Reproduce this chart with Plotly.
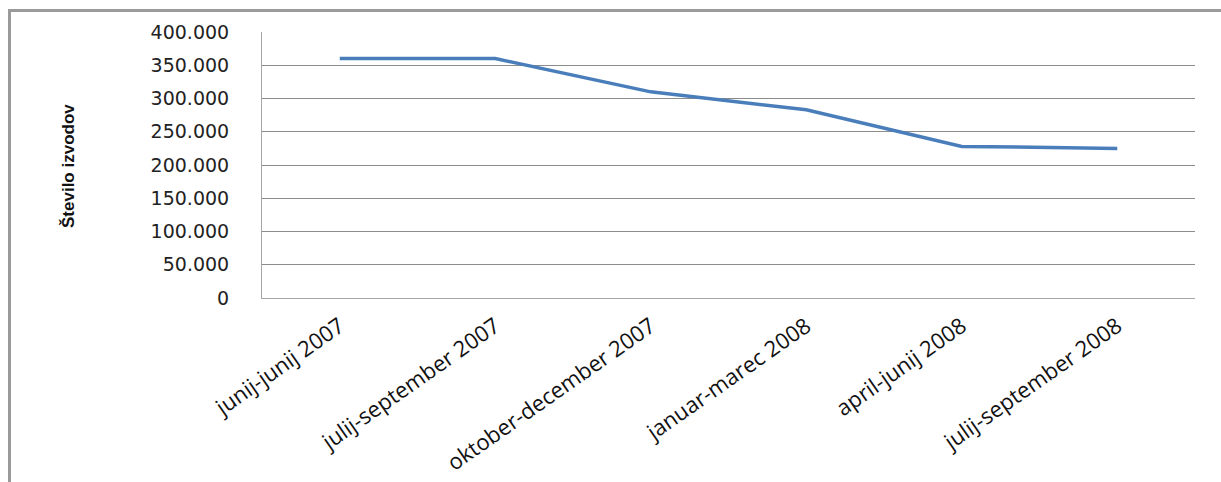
import plotly.graph_objects as go

# Quarterly periods and number of copies
periods = [
    "junij-junij 2007",
    "julij-september 2007",
    "oktober-december 2007",
    "januar-marec 2008",
    "april-junij 2008",
    "julij-september 2008",
]
copies = [360000, 360000, 310000, 283000, 228000, 225000]

y_ticks = [0, 50000, 100000, 150000, 200000, 250000, 300000, 350000, 400000]
y_tick_text = ["0", "50.000", "100.000", "150.000", "200.000",
               "250.000", "300.000", "350.000", "400.000"]

W, H = 1221, 482
L, R, T, B = 262, 26, 32, 184
pw, ph = W - L - R, H - T - B


def px(x):
    return (x - L) / pw


def py(y):
    return (H - B - y) / ph


fig = go.Figure()
fig.add_trace(go.Scatter(
    x=periods, y=copies, mode="lines",
    line=dict(color="#4a7ebb", width=3.5),
    hoverinfo="x+y", showlegend=False,
))

fig.update_layout(
    width=W, height=H,
    margin=dict(l=L, r=R, t=T, b=B, autoexpand=False),
    paper_bgcolor="white", plot_bgcolor="white",
    xaxis=dict(
        type="category", range=[-0.5, 5.5],
        showgrid=False, showline=True, linecolor="#a6a6a6", linewidth=1,
        ticks="", tickangle=-35,
        tickfont=dict(family="Open Sans, sans-serif", size=22, color="#111"),
        ticklabelstandoff=6,
    ),
    yaxis=dict(
        range=[0, 400000], tickvals=y_ticks, ticktext=y_tick_text,
        showgrid=True, gridcolor="#8c8c8c", gridwidth=1,
        showline=True, linecolor="#a6a6a6", linewidth=1,
        zeroline=False, ticks="",
        tickfont=dict(family="DejaVu Sans, sans-serif", size=19, color="#222"),
        ticklabelstandoff=28,
    ),
    annotations=[dict(
        text="Število izvodov", textangle=-90,
        xref="paper", yref="paper", x=px(68), y=py(166),
        xanchor="center", yanchor="middle", showarrow=False,
        font=dict(family="Liberation Sans Narrow, Arial Narrow, sans-serif",
                  size=17, color="#111", weight="bold"),
    )],
    shapes=[dict(
        type="path", xref="paper", yref="paper",
        path=f"M {px(9.5)} {py(482)} L {px(9.5)} {py(10.5)} L {px(1221)} {py(10.5)}",
        line=dict(color="#9a9a9a", width=3),
    )],
)

fig.write_html("out.html")
